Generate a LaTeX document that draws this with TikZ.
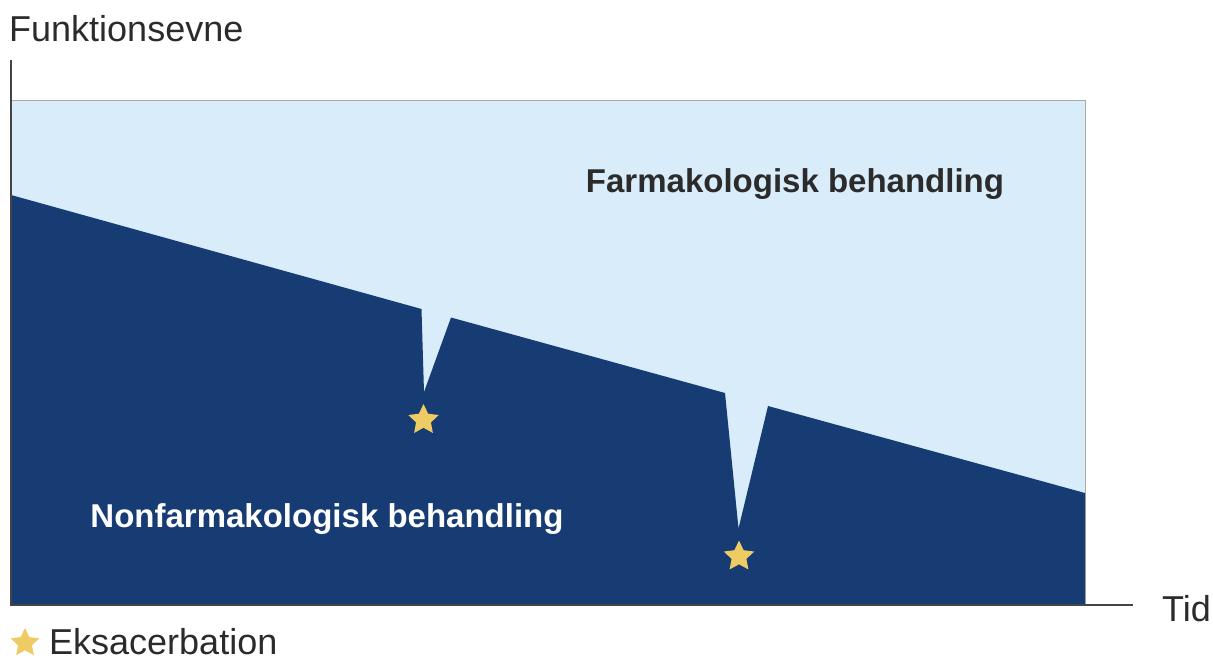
\documentclass[tikz,border=0pt]{standalone}
\usepackage{fontspec}
\setmainfont{Liberation Sans}
\usetikzlibrary{shapes.geometric}
\definecolor{darkblue}{HTML}{163C73}
\definecolor{lightblue}{HTML}{D8ECFA}
\definecolor{starcol}{HTML}{EECB63}
\definecolor{axiscol}{HTML}{444444}
\definecolor{boxcol}{HTML}{AAAAAA}
\definecolor{txtcol}{HTML}{2B2B2B}
\tikzset{
  estar/.style={star, star points=5, star point ratio=2.05, fill=starcol, draw=none, inner sep=0pt, minimum size=32pt, line join=round},
  axislabel/.style={text=txtcol, font=\fontsize{36}{38}\selectfont, inner sep=0pt},
  zonelabel/.style={font=\fontsize{33}{36}\selectfont\bfseries, inner sep=0pt},
}
\begin{document}
\begin{tikzpicture}[x=1pt,y=-1pt]
\useasboundingbox (0,0) rectangle (1213,662);
% light region
\fill[lightblue] (11,100) rectangle (1085,605);
\draw[boxcol, line width=1pt] (11,100) -- (1085,100) -- (1085,605);
% dark region
\fill[darkblue] (11,195) -- (421.5,309) -- (424,392) -- (451,317.5) -- (725,393) -- (738.5,528.5) -- (768,406) -- (1085,493) -- (1085,605) -- (11,605) -- cycle;
% axes
\coordinate (o) at (11,605);
\coordinate (ytop) at (11,60);
\coordinate (xend) at (1133,605);
\draw[axiscol, line width=1.5pt] (ytop) -- (o) -- (xend);
% labels
\node[axislabel, anchor=base west] (yl) at (9,41) {Funktionsevne};
\node[axislabel, anchor=base west] (xl) at (1162,621) {Tid};
\node[zonelabel, text=txtcol] (farm) at (795,184) {Farmakologisk behandling};
\node[zonelabel, text=white] (nonfarm) at (327,519) {Nonfarmakologisk behandling};
% stars
\node[estar] (s1) at (423.5,420) {};
\node[estar] (s2) at (739,556.5) {};
% legend
\node[estar, minimum size=30pt] (ls) at (25,643) {};
\node[axislabel, anchor=base west] (lt) at (49,654) {Eksacerbation};
\end{tikzpicture}
\end{document}
